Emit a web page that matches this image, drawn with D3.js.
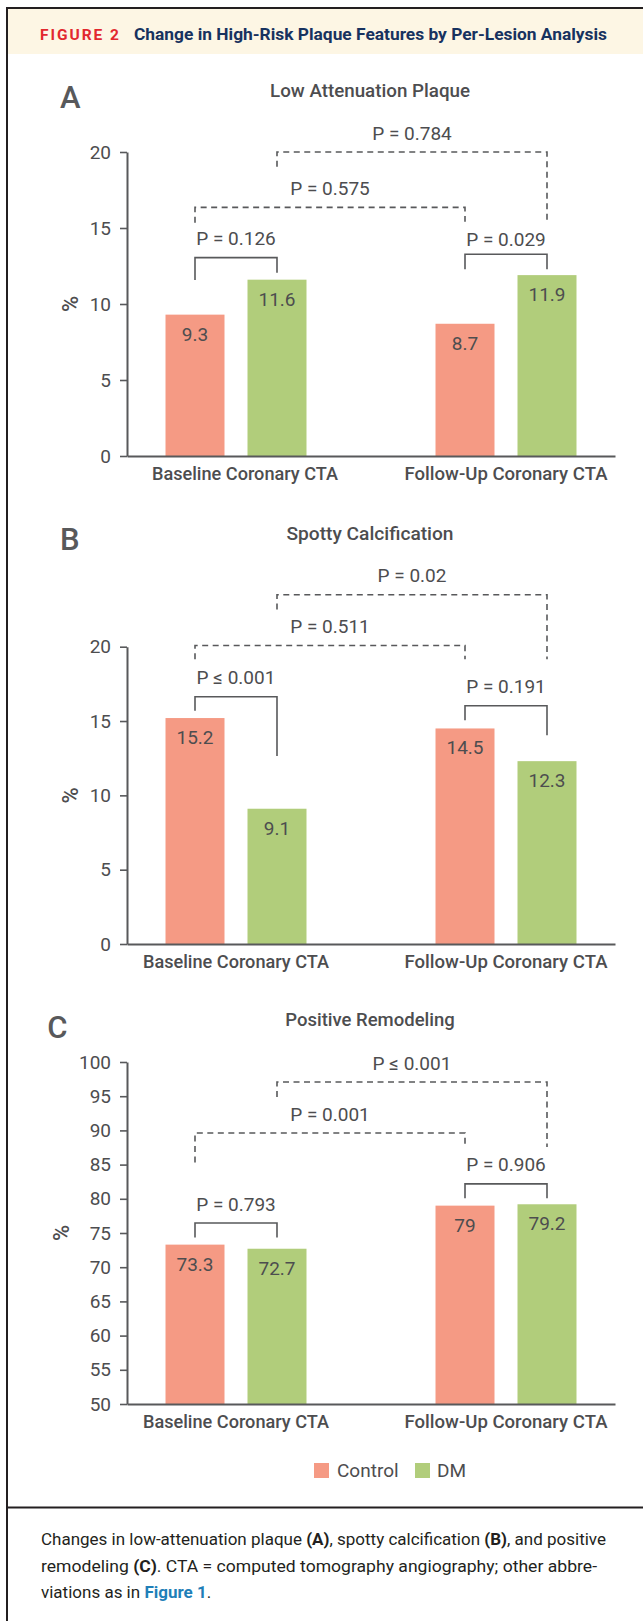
<!DOCTYPE html>
<html><head><meta charset="utf-8">
<script src="https://cdn.jsdelivr.net/npm/d3@7"></script>
<style>
html,body{margin:0;padding:0;background:#fff;}
svg{display:block;}
text{font-family:Roboto,"Open Sans",sans-serif;}
</style></head><body>
<svg id="chart" width="643" height="1621"></svg>
<script>
// ---------------- data ----------------
const categories = ["Baseline Coronary CTA", "Follow-Up Coronary CTA"];
const seriesNames = ["Control", "DM"];

const lapControl = [9.3, 8.7];
const lapDM = [11.6, 11.9];
const scControl = [15.2, 14.5];
const scDM = [9.1, 12.3];
const prControl = [73.3, 79.0];
const prDM = [72.7, 79.2];

const lapTicks = [0, 5, 10, 15, 20];
const scTicks = [0, 5, 10, 15, 20];
const prTicks = [50, 55, 60, 65, 70, 75, 80, 85, 90, 95, 100];

// comparisons: bar index (0 base-control, 1 base-DM, 2 fu-control, 3 fu-DM), label, bracket levels in data units
const lapComparisons = [
  {from: 0, to: 1, label: "P = 0.126", dashed: false, top: 13.05, leftEnd: 11.58, rightEnd: 12.06, labelAt: 13.88},
  {from: 2, to: 3, label: "P = 0.029", dashed: false, top: 13.27, leftEnd: 12.28, rightEnd: 12.28, labelAt: 13.82},
  {from: 0, to: 2, label: "P = 0.575", dashed: true, top: 16.36, leftEnd: 15.35, rightEnd: 15.41, labelAt: 17.17},
  {from: 1, to: 3, label: "P = 0.784", dashed: true, top: 20.0, leftEnd: 19.03, rightEnd: 15.41, labelAt: 20.79}
];
const scComparisons = [
  {from: 0, to: 1, label: "P \u2264 0.001", dashed: false, top: 16.63, leftEnd: 15.69, rightEnd: 12.64, labelAt: 17.48},
  {from: 2, to: 3, label: "P = 0.191", dashed: false, top: 16.03, leftEnd: 15.06, rightEnd: 14.05, labelAt: 16.86},
  {from: 0, to: 2, label: "P = 0.511", dashed: true, top: 20.08, leftEnd: 19.15, rightEnd: 19.15, labelAt: 20.93},
  {from: 1, to: 3, label: "P = 0.02", dashed: true, top: 23.49, leftEnd: 22.5, rightEnd: 19.15, labelAt: 24.36}
];
const prComparisons = [
  {from: 0, to: 1, label: "P = 0.793", dashed: false, top: 76.47, leftEnd: 74.35, rightEnd: 74.35, labelAt: 78.24},
  {from: 2, to: 3, label: "P = 0.906", dashed: false, top: 82.18, leftEnd: 80.09, rightEnd: 80.09, labelAt: 84.08},
  {from: 0, to: 2, label: "P = 0.001", dashed: true, top: 89.63, leftEnd: 85.29, rightEnd: 87.58, labelAt: 91.38},
  {from: 1, to: 3, label: "P \u2264 0.001", dashed: true, top: 97.08, leftEnd: 94.89, rightEnd: 87.58, labelAt: 98.79}
];

// ---------------- style / layout ----------------
const W = 643, H = 1621;
const colors = {Control: "#f59a84", DM: "#b1cd7b"};
const ink = "#4d4d4f";
const axisInk = "#58595b";

const layout = [
  {letter: "A", title: "Low Attenuation Plaque", titleW: 200, titleY: 97, letterX: 60, letterY: 108.3,
   top: 152, bottom: 456, pctX: 70, baseDx: 9},
  {letter: "B", title: "Spotty Calcification", titleW: 167, titleY: 540, letterX: 60, letterY: 550,
   top: 646.7, bottom: 944, pctX: 70, baseDx: 0},
  {letter: "C", title: "Positive Remodeling", titleW: 169.5, titleY: 1026, letterX: 47.3, letterY: 1038.3,
   top: 1062, bottom: 1404, pctX: 61, baseDx: 0}
];
const panelData = [
  {control: lapControl, dm: lapDM, ticks: lapTicks, comps: lapComparisons},
  {control: scControl, dm: scDM, ticks: scTicks, comps: scComparisons},
  {control: prControl, dm: prDM, ticks: prTicks, comps: prComparisons}
];

const svg = d3.select("#chart");

// ---------------- frame ----------------
svg.append("rect").attr("x", 8).attr("y", 9).attr("width", W).attr("height", 45).attr("fill", "#fdf6e4");
svg.append("rect").attr("x", 7).attr("y", 8).attr("width", W + 20).attr("height", H + 20)
  .attr("fill", "none").attr("stroke", "#231f20").attr("stroke-width", 2);
svg.append("line").attr("x1", 7).attr("x2", W).attr("y1", 1507.5).attr("y2", 1507.5)
  .attr("stroke", "#231f20").attr("stroke-width", 2);

svg.append("text").attr("x", 40).attr("y", 39.5).text("FIGURE 2")
  .attr("font-size", 15.5).attr("font-weight", 700).attr("fill", "#e2282e")
  .attr("textLength", 79).attr("lengthAdjust", "spacing");
svg.append("text").attr("x", 134).attr("y", 39.5).text("Change in High-Risk Plaque Features by Per-Lesion Analysis")
  .attr("font-size", 16.5).attr("font-weight", 700).attr("fill", "#17325f")
  .attr("textLength", 473).attr("lengthAdjust", "spacingAndGlyphs");

// ---------------- panels ----------------
const x0 = d3.scaleBand().domain(categories).range([127, 615]).paddingInner(0.4778).paddingOuter(0.1426);
const x1 = d3.scaleBand().domain(seriesNames).range([0, x0.bandwidth()]).paddingInner(0.2805);
const barCenter = i => x0(categories[Math.floor(i / 2)]) + x1(seriesNames[i % 2]) + x1.bandwidth() / 2;
const catLabelW = {"Baseline Coronary CTA": 186, "Follow-Up Coronary CTA": 203};

layout.forEach((cfg, pi) => {
  const d = panelData[pi];
  const g = svg.append("g");
  const y = d3.scaleLinear().domain([d.ticks[0], d.ticks[d.ticks.length - 1]]).range([cfg.bottom, cfg.top]);

  // letter & title
  g.append("text").attr("x", cfg.letterX).attr("y", cfg.letterY).text(cfg.letter)
    .attr("font-size", 31).attr("font-weight", 500).attr("fill", axisInk);
  g.append("text").attr("x", 370).attr("y", cfg.titleY).attr("text-anchor", "middle").text(cfg.title)
    .attr("font-size", 17.5).attr("font-weight", 500).attr("fill", ink)
    .attr("textLength", cfg.titleW).attr("lengthAdjust", "spacingAndGlyphs");

  // bars
  const rows = [];
  categories.forEach((c, ci) => {
    rows.push({cat: c, s: "Control", v: d.control[ci]});
    rows.push({cat: c, s: "DM", v: d.dm[ci]});
  });
  g.selectAll("rect.bar").data(rows).join("rect").attr("class", "bar")
    .attr("x", r => x0(r.cat) + x1(r.s))
    .attr("width", x1.bandwidth())
    .attr("y", r => y(r.v))
    .attr("height", r => y(d.ticks[0]) - y(r.v))
    .attr("fill", r => colors[r.s]);
  g.selectAll("text.val").data(rows).join("text").attr("class", "val")
    .attr("x", r => x0(r.cat) + x1(r.s) + x1.bandwidth() / 2)
    .attr("y", r => y(r.v) + 26)
    .attr("text-anchor", "middle").attr("font-size", 19).attr("fill", ink)
    .text(r => String(r.v));

  // y axis
  const ya = g.append("g").attr("transform", `translate(${x0.range()[0]},0)`)
    .call(d3.axisLeft(y).tickValues(d.ticks).tickSize(7).tickSizeOuter(0).tickPadding(9).tickFormat(d3.format("d")));
  ya.select(".domain").attr("stroke", axisInk).attr("stroke-width", 2);
  ya.selectAll(".tick line").attr("stroke", axisInk).attr("stroke-width", 1.6);
  ya.selectAll(".tick text").attr("font-size", 19).attr("fill", ink).attr("font-family", "Roboto");

  // x axis
  const xa = g.append("g").attr("transform", `translate(0,${cfg.bottom})`)
    .call(d3.axisBottom(x0).tickSize(0).tickSizeOuter(0));
  xa.select(".domain").attr("stroke", axisInk).attr("stroke-width", 2.2);
  xa.selectAll(".tick text").attr("y", 23.5).attr("dy", null)
    .attr("dx", c => c === categories[0] ? cfg.baseDx : 0)
    .attr("font-size", 18).attr("font-weight", 500).attr("fill", ink).attr("font-family", "Roboto")
    .attr("textLength", c => catLabelW[c]).attr("lengthAdjust", "spacingAndGlyphs");

  // y label
  g.append("text").attr("transform", `translate(${cfg.pctX},${(cfg.top + cfg.bottom) / 2}) rotate(-90)`)
    .attr("dy", "0.35em").attr("text-anchor", "middle").attr("font-size", 22).attr("font-weight", 500)
    .attr("fill", ink).text("%");

  // brackets
  d.comps.forEach(c => {
    const xl = barCenter(c.from), xr = barCenter(c.to);
    g.append("path")
      .attr("d", `M${xl},${y(c.leftEnd)}V${y(c.top)}H${xr}V${y(c.rightEnd)}`)
      .attr("fill", "none").attr("stroke", axisInk).attr("stroke-width", 1.6)
      .attr("stroke-dasharray", c.dashed ? "6,4.5" : null);
    g.append("text").attr("x", (xl + xr) / 2).attr("y", y(c.labelAt)).attr("text-anchor", "middle")
      .attr("font-size", 19).attr("fill", ink).text(c.label);
  });
});

// ---------------- legend ----------------
const legendPos = {Control: {x: 314, tx: 337}, DM: {x: 415, tx: 437}};
const lg = svg.append("g");
seriesNames.forEach(s => {
  lg.append("rect").attr("x", legendPos[s].x).attr("y", 1463).attr("width", 15).attr("height", 15).attr("fill", colors[s]);
  lg.append("text").attr("x", legendPos[s].tx).attr("y", 1476.5).attr("font-size", 19).attr("fill", ink).text(s);
});

// ---------------- caption ----------------
const captionLines = [
  {w: 565, parts: [["Changes in low-attenuation plaque ", 0], ["(A)", 1], [", spotty calcification ", 0], ["(B)", 1], [", and positive", 0]]},
  {w: 556, parts: [["remodeling ", 0], ["(C)", 1], [". CTA = computed tomography angiography; other abbre-", 0]]},
  {w: null, parts: [["viations as in ", 0], ["Figure 1", 2], [".", 0]]}
];
const capY = [1545, 1571.7, 1598.3];
captionLines.forEach((ln, i) => {
  const t = svg.append("text").attr("x", 41).attr("y", capY[i]).attr("font-size", 17).attr("fill", "#231f20");
  if (ln.w) t.attr("textLength", ln.w).attr("lengthAdjust", "spacingAndGlyphs");
  ln.parts.forEach(p => {
    const ts = t.append("tspan").text(p[0]);
    if (p[1] >= 1) ts.attr("font-weight", 700);
    if (p[1] === 2) ts.attr("fill", "#1f7fb8");
  });
});
</script>
</body></html>
